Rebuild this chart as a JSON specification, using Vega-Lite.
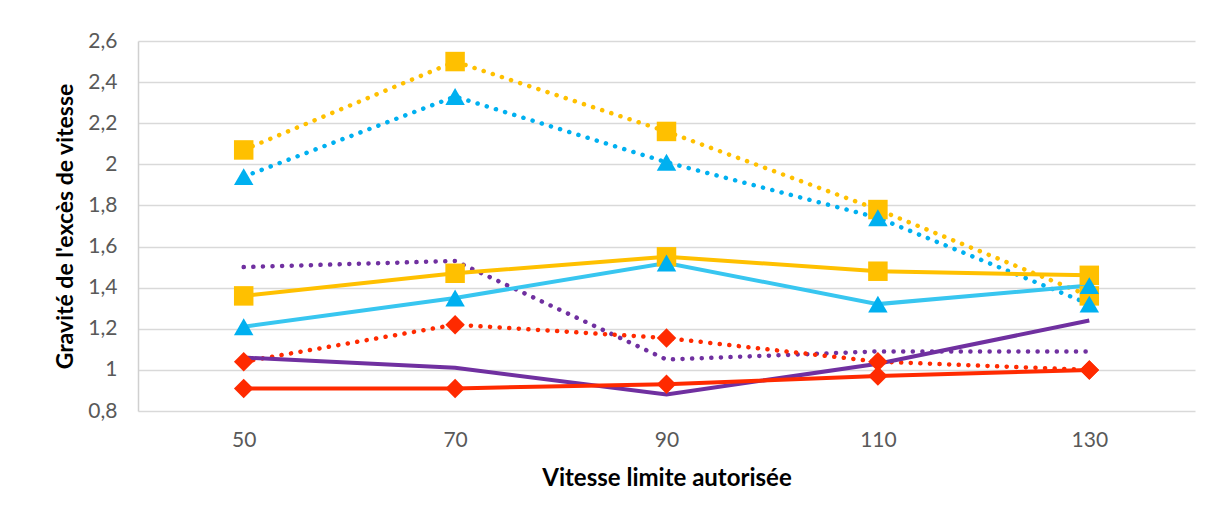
{
  "$schema": "https://vega.github.io/schema/vega-lite/v6.json",
  "width": 1057,
  "height": 370,
  "autosize": {"type": "none"},
  "padding": {"left": 138, "top": 41, "right": 16, "bottom": 109},
  "background": "white",
  "config": {
    "view": {"stroke": null},
    "font": "Lato",
    "axis": {"labelFont": "Lato", "titleFont": "Lato"}
  },
  "data": {
    "values": [
      {"v": "50", "y": 2.07, "s": "orange_dot", "d": "dot", "m": "square"},
      {"v": "70", "y": 2.50, "s": "orange_dot", "d": "dot", "m": "square"},
      {"v": "90", "y": 2.16, "s": "orange_dot", "d": "dot", "m": "square"},
      {"v": "110", "y": 1.78, "s": "orange_dot", "d": "dot", "m": "square"},
      {"v": "130", "y": 1.36, "s": "orange_dot", "d": "dot", "m": "square"},
      {"v": "50", "y": 1.94, "s": "blue_dot", "d": "dot", "m": "triangle"},
      {"v": "70", "y": 2.33, "s": "blue_dot", "d": "dot", "m": "triangle"},
      {"v": "90", "y": 2.01, "s": "blue_dot", "d": "dot", "m": "triangle"},
      {"v": "110", "y": 1.74, "s": "blue_dot", "d": "dot", "m": "triangle"},
      {"v": "130", "y": 1.32, "s": "blue_dot", "d": "dot", "m": "triangle"},
      {"v": "50", "y": 1.50, "s": "purple_dot", "d": "dot", "m": "none"},
      {"v": "70", "y": 1.53, "s": "purple_dot", "d": "dot", "m": "none"},
      {"v": "90", "y": 1.05, "s": "purple_dot", "d": "dot", "m": "none"},
      {"v": "110", "y": 1.09, "s": "purple_dot", "d": "dot", "m": "none"},
      {"v": "130", "y": 1.09, "s": "purple_dot", "d": "dot", "m": "none"},
      {"v": "50", "y": 1.04, "s": "red_dot", "d": "dot", "m": "diamond"},
      {"v": "70", "y": 1.22, "s": "red_dot", "d": "dot", "m": "diamond"},
      {"v": "90", "y": 1.155, "s": "red_dot", "d": "dot", "m": "diamond"},
      {"v": "110", "y": 1.04, "s": "red_dot", "d": "dot", "m": "diamond"},
      {"v": "130", "y": 1.0, "s": "red_dot", "d": "dot", "m": "diamond"},
      {"v": "50", "y": 1.36, "s": "orange_solid", "d": "solid", "m": "square"},
      {"v": "70", "y": 1.47, "s": "orange_solid", "d": "solid", "m": "square"},
      {"v": "90", "y": 1.55, "s": "orange_solid", "d": "solid", "m": "square"},
      {"v": "110", "y": 1.48, "s": "orange_solid", "d": "solid", "m": "square"},
      {"v": "130", "y": 1.46, "s": "orange_solid", "d": "solid", "m": "square"},
      {"v": "50", "y": 1.21, "s": "blue_solid", "d": "solid", "m": "triangle"},
      {"v": "70", "y": 1.35, "s": "blue_solid", "d": "solid", "m": "triangle"},
      {"v": "90", "y": 1.52, "s": "blue_solid", "d": "solid", "m": "triangle"},
      {"v": "110", "y": 1.32, "s": "blue_solid", "d": "solid", "m": "triangle"},
      {"v": "130", "y": 1.41, "s": "blue_solid", "d": "solid", "m": "triangle"},
      {"v": "50", "y": 1.06, "s": "purple_solid", "d": "solid", "m": "none"},
      {"v": "70", "y": 1.01, "s": "purple_solid", "d": "solid", "m": "none"},
      {"v": "90", "y": 0.88, "s": "purple_solid", "d": "solid", "m": "none"},
      {"v": "110", "y": 1.03, "s": "purple_solid", "d": "solid", "m": "none"},
      {"v": "130", "y": 1.24, "s": "purple_solid", "d": "solid", "m": "none"},
      {"v": "50", "y": 0.91, "s": "red_solid", "d": "solid", "m": "diamond"},
      {"v": "70", "y": 0.91, "s": "red_solid", "d": "solid", "m": "diamond"},
      {"v": "90", "y": 0.93, "s": "red_solid", "d": "solid", "m": "diamond"},
      {"v": "110", "y": 0.97, "s": "red_solid", "d": "solid", "m": "diamond"},
      {"v": "130", "y": 1.0, "s": "red_solid", "d": "solid", "m": "diamond"}
    ]
  },
  "encoding": {
    "x": {
      "field": "v",
      "type": "ordinal",
      "sort": ["50", "70", "90", "110", "130"],
      "scale": {"type": "point", "padding": 0.5},
      "axis": {
        "title": "Vitesse limite autorisée",
        "titleFontSize": 24,
        "titleFontWeight": "bold",
        "titleColor": "#000000",
        "titlePadding": 16,
        "labelFontSize": 21,
        "labelColor": "#595959",
        "labelAngle": 0,
        "labelPadding": 18,
        "ticks": false,
        "domain": false,
        "grid": false
      }
    },
    "y": {
      "field": "y",
      "type": "quantitative",
      "scale": {"domain": [0.8, 2.6], "nice": false, "zero": false},
      "axis": {
        "title": "Gravité de l'excès de vitesse",
        "titleFontSize": 23,
        "titleFontWeight": "bold",
        "titleColor": "#000000",
        "titlePadding": 10,
        "values": [0.8, 1, 1.2, 1.4, 1.6, 1.8, 2, 2.2, 2.4, 2.6],
        "labelExpr": "replace(format(datum.value, '~g'), '.', ',')",
        "labelFontSize": 21,
        "labelColor": "#595959",
        "labelPadding": 21,
        "ticks": false,
        "domain": true,
        "domainColor": "#D0D0D0",
        "domainWidth": 1.5,
        "grid": true,
        "gridColor": "#D9D9D9",
        "gridWidth": 1.5
      }
    }
  },
  "layer": [
    {
      "transform": [{"filter": "datum.d == 'dot'"}],
      "mark": {"type": "line", "strokeWidth": 4.5, "strokeCap": "round", "strokeDash": [0.1, 9.5]},
      "encoding": {
        "detail": {"field": "s"},
        "color": {
          "field": "s",
          "type": "nominal",
          "legend": null,
          "scale": {
            "domain": ["orange_dot", "blue_dot", "purple_dot", "red_dot"],
            "range": ["#FFC000", "#00B0F0", "#7030A0", "#FF2A00"]
          }
        }
      }
    },
    {
      "transform": [{"filter": "datum.d == 'solid'"}],
      "mark": {"type": "line", "strokeWidth": 4},
      "encoding": {
        "detail": {"field": "s"},
        "color": {
          "field": "s",
          "type": "nominal",
          "legend": null,
          "scale": {
            "domain": ["orange_solid", "blue_solid", "purple_solid", "red_solid"],
            "range": ["#FFC000", "#38C6F0", "#7030A0", "#FF2A00"]
          }
        }
      }
    },
    {
      "transform": [{"filter": "datum.m != 'none'"}],
      "mark": {"type": "point", "filled": true, "opacity": 1, "size": 380},
      "encoding": {
        "shape": {
          "field": "m",
          "type": "nominal",
          "legend": null,
          "scale": {"domain": ["square", "triangle", "diamond"], "range": ["square", "triangle-up", "diamond"]}
        },
        "color": {
          "field": "m",
          "type": "nominal",
          "legend": null,
          "scale": {"domain": ["square", "triangle", "diamond"], "range": ["#FFC000", "#00B0F0", "#FF2A00"]}
        }
      }
    }
  ],
  "resolve": {"scale": {"color": "independent"}}
}
